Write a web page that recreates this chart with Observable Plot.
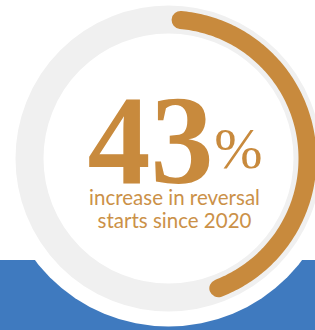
<!DOCTYPE html>
<html>
<head>
<meta charset="utf-8">
<script src="https://cdn.jsdelivr.net/npm/d3@7"></script>
<script src="https://cdn.jsdelivr.net/npm/@observablehq/plot@0.6"></script>
<style>
  html, body { margin: 0; padding: 0; background: #ffffff; overflow: hidden; }
</style>
</head>
<body>
<div id="chart"></div>
<script>
// Data
const value = 43;            // percent
const maxValue = 100;
const bigLabel = ["43"];
const unitLabel = ["%"];
const captionLines = ["increase in reversal", "starts since 2020"];

// Colors
const orange = "#C88A3D";
const captionColor = "#CB9148";
const ringGray = "#F0F0F0";
const blue = "#3F7ABF";

const W = 315, H = 330;
const cx = 168, cy = 158;
const ringR = 139;
const startDeg = 5;

const arcPts = d3.range(startDeg, startDeg + value / maxValue * 360 + 0.01, 1).map(a => {
  const t = a * Math.PI / 180;
  return {x: cx + ringR * Math.sin(t), y: cy - ringR * Math.cos(t)};
});

const chart = Plot.plot({
  width: W,
  height: H,
  margin: 0,
  x: {domain: [0, W], range: [0, W], axis: null},
  y: {domain: [0, H], range: [0, H], axis: null},
  r: {type: "identity"},
  marks: [
    Plot.rect([{x1: 0, x2: W, y1: 260, y2: H}], {x1: "x1", x2: "x2", y1: "y1", y2: "y2", fill: blue}),
    Plot.dot([{x: cx, y: cy, r: 168}], {x: "x", y: "y", r: "r", fill: "white", stroke: "none"}),
    Plot.dot([{x: cx, y: cy, r: ringR}], {x: "x", y: "y", r: "r", fill: "none", stroke: ringGray, strokeWidth: 28}),
    Plot.line(arcPts, {x: "x", y: "y", stroke: orange, strokeWidth: 18, strokeLinecap: "round", curve: "linear"}),
    Plot.text(bigLabel, {x: () => 150, y: () => 182, text: d => d, fill: orange, fontSize: 126, fontWeight: "bold", fontFamily: "Liberation Serif", lineAnchor: "bottom", textAnchor: "middle"}),
    Plot.text(unitLabel, {x: () => 238, y: () => 167, text: d => d, fill: orange, fontSize: 58, fontFamily: "Liberation Serif", lineAnchor: "bottom", textAnchor: "middle"}),
    Plot.text(captionLines, {x: () => 174, y: (d, i) => 204 + i * 23, text: d => d, fill: captionColor, fontSize: 20.5, fontFamily: "Lato", lineAnchor: "bottom", textAnchor: "middle"})
  ]
});
document.getElementById("chart").appendChild(chart);
</script>
</body>
</html>
